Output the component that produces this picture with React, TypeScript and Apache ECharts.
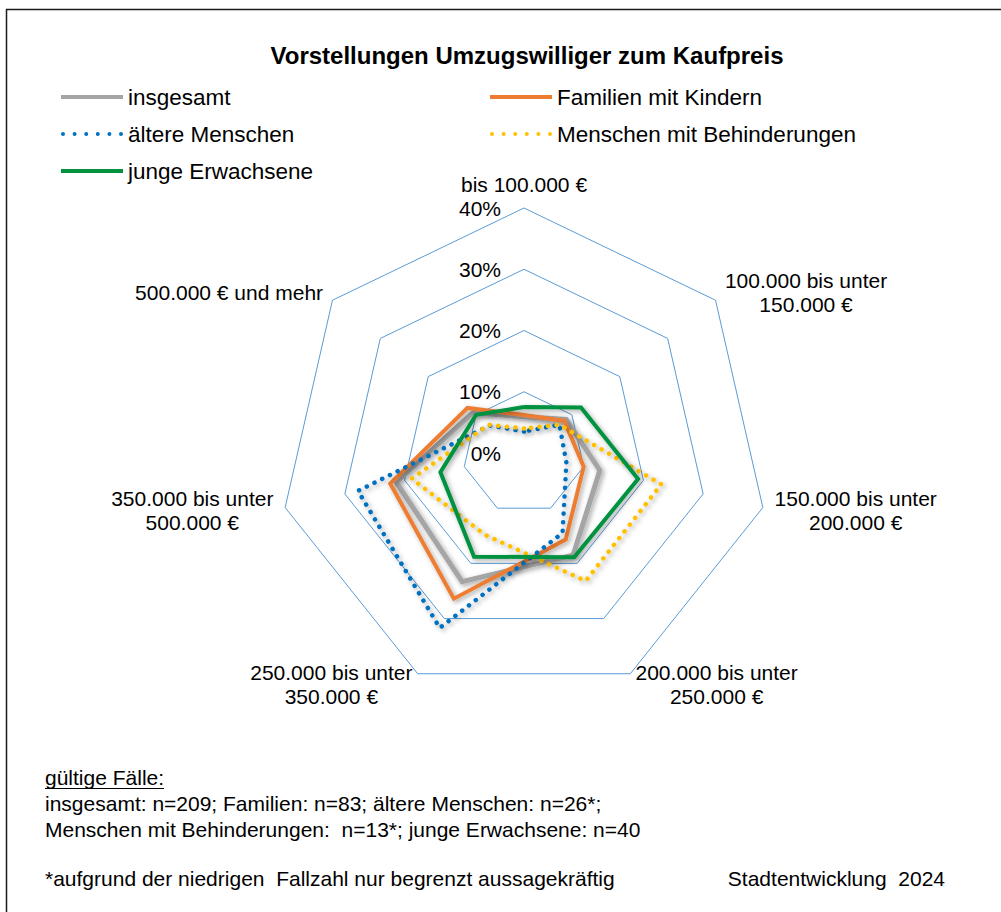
import React, { useEffect, useRef } from "react";
import * as echarts from "echarts";

// ---------- data ----------
const categories = [
  "bis 100.000 €",
  "100.000 bis unter\n150.000 €",
  "150.000 bis unter\n200.000 €",
  "200.000 bis unter\n250.000 €",
  "250.000 bis unter\n350.000 €",
  "350.000 bis unter\n500.000 €",
  "500.000 € und mehr",
];
const seriesNames = [
  "insgesamt",
  "Familien mit Kindern",
  "ältere Menschen",
  "Menschen mit Behinderungen",
  "junge Erwachsene",
];
// percent values, clockwise starting at "bis 100.000 €"
const insgesamt = [5.9, 8.8, 12.7, 18.5, 23.3, 21.4, 10.6];
const familien = [6.2, 8.4, 10.0, 15.7, 26.4, 22.4, 11.8];
const aeltere = [3.5, 7.4, 7.1, 14.5, 31.7, 27.8, 7.2];
const behinderungen = [4.0, 7.4, 23.0, 23.2, 14.8, 18.8, 7.4];
const junge = [7.5, 11.9, 19.1, 18.9, 18.8, 14.0, 10.0];
const axisMin = 0;
const axisMax = 40;
const axisStep = 10;
const tickSuffix = "%";

const titleText = "Vorstellungen Umzugswilliger zum Kaufpreis";
const footHeading = "gültige Fälle:";
const footLines = [
  "insgesamt: n=209; Familien: n=83; ältere Menschen: n=26*;",
  "Menschen mit Behinderungen:  n=13*; junge Erwachsene: n=40",
];
const footNote = "*aufgrund der niedrigen  Fallzahl nur begrenzt aussagekräftig";
const sourceText = "Stadtentwicklung  2024";

// ---------- styles ----------
const FONT = '"Liberation Sans", Arial, Helvetica, sans-serif';
const seriesValues = [insgesamt, familien, aeltere, behinderungen, junge];
const seriesStyles = [
  { color: "#A5A5A5", dotted: false, width: 5 },
  { color: "#ED7D31", dotted: false, width: 4 },
  { color: "#0070C0", dotted: true, width: 4.5 },
  { color: "#FFC000", dotted: true, width: 4.5 },
  { color: "#00923F", dotted: false, width: 4 },
];
const legendPos = [
  { left: 61, top: 84 },
  { left: 490, top: 84 },
  { left: 61, top: 121 },
  { left: 490, top: 121 },
  { left: 61, top: 158 },
];

// ECharts radar runs counter-clockwise; reorder so categories run clockwise
const cw = <T,>(arr: T[]): T[] => [arr[0], ...arr.slice(1).reverse()];

const dottedIcon = (() => {
  let d = "path://";
  for (let i = 0; i < 6; i++) {
    const x = i * 11.6;
    d += `M${x},2a2,2 0 1,0 4,0a2,2 0 1,0 -4,0z`;
  }
  return d;
})();

function measure(text: string, font: string): number {
  const c = document.createElement("canvas").getContext("2d");
  if (!c) return text.length * 9;
  c.font = font;
  return c.measureText(text).width;
}

export default function App() {
  const ref = useRef<HTMLDivElement>(null);

  useEffect(() => {
    if (!ref.current) return;
    const chart = echarts.init(ref.current, undefined, { renderer: "svg" });

    const footSize = 21;
    const headW = measure(footHeading, `${footSize}px ${FONT}`);

    const option: any = {
      animation: false,
      backgroundColor: "#fff",
      legend: seriesNames.map((name, i) => ({
        data: [name],
        left: legendPos[i].left,
        top: legendPos[i].top,
        padding: 0,
        selectedMode: false,
        icon: seriesStyles[i].dotted ? dottedIcon : "rect",
        itemWidth: 62,
        itemHeight: 4,
        itemStyle: { borderWidth: 0 },
        textStyle: {
          fontSize: 22.5,
          lineHeight: 26,
          color: "#000",
          fontFamily: FONT,
        },
      })),
      radar: {
        center: [524, 453],
        radius: 245,
        startAngle: 90,
        min: axisMin,
        splitNumber: (axisMax - axisMin) / axisStep,
        shape: "polygon",
        nameGap: 12,
        indicator: cw(categories).map((name) => ({
          name,
          min: axisMin,
          max: axisMax,
        })),
        axisName: {
          color: "#000",
          fontSize: 21,
          fontFamily: FONT,
          lineHeight: 24,
          formatter: (name: string) =>
            name
              .split("\n")
              .map((l) => `{c|${l}}`)
              .join("\n"),
          rich: {
            c: {
              align: "center",
              fontSize: 21,
              lineHeight: 24,
              color: "#000",
              fontFamily: FONT,
            },
          },
        },
        splitLine: { lineStyle: { color: "#5B9BD5", width: 1 } },
        splitArea: { show: false },
        axisLine: { show: false },
        axisTick: { show: false },
        axisLabel: { show: false },
      },
      grid: { left: 524, top: 208, width: 10, height: 245 },
      xAxis: { type: "value", show: false },
      yAxis: {
        type: "value",
        min: axisMin,
        max: axisMax,
        interval: axisStep,
        axisLine: { show: false },
        axisTick: { show: false },
        splitLine: { show: false },
        axisLabel: {
          formatter: "{value}" + tickSuffix,
          fontSize: 21,
          color: "#000",
          margin: 23,
          fontFamily: FONT,
        },
      },
      series: seriesNames.map((name, i) => {
        const st = seriesStyles[i];
        return {
          type: "radar",
          name,
          symbol: "none",
          z: 2 + i,
          itemStyle: { color: st.color },
          lineStyle: {
            color: st.color,
            width: st.width,
            type: st.dotted ? [0.1, 8.5] : "solid",
            cap: st.dotted ? "round" : "butt",
            join: "miter",
            shadowColor: "rgba(0,0,0,0.35)",
            shadowBlur: 5,
            shadowOffsetX: 2,
            shadowOffsetY: 2,
          },
          data: [{ name, value: cw(seriesValues[i]) }],
        };
      }),
      graphic: [
        {
          type: "line",
          shape: { x1: 6, y1: 9.5, x2: 1001, y2: 9.5 },
          style: { stroke: "#1a1a1a", lineWidth: 1.5 },
        },
        {
          type: "line",
          shape: { x1: 6.5, y1: 9, x2: 6.5, y2: 912 },
          style: { stroke: "#1a1a1a", lineWidth: 1.5 },
        },
        {
          type: "text",
          x: 527,
          y: 55,
          style: {
            text: titleText,
            fontSize: 24,
            fontWeight: "bold",
            fontFamily: FONT,
            fill: "#000",
            align: "center",
            verticalAlign: "middle",
          },
        },
        {
          type: "text",
          x: 45,
          y: 777,
          style: {
            text: footHeading,
            fontSize: footSize,
            fontFamily: FONT,
            fill: "#000",
            verticalAlign: "middle",
          },
        },
        {
          type: "line",
          shape: { x1: 45, y1: 788.5, x2: 45 + headW, y2: 788.5 },
          style: { stroke: "#000", lineWidth: 1 },
        },
        ...footLines.map((t, i) => ({
          type: "text",
          x: 45,
          y: 803 + i * 26,
          style: {
            text: t,
            fontSize: footSize,
            fontFamily: FONT,
            fill: "#000",
            verticalAlign: "middle",
          },
        })),
        {
          type: "text",
          x: 45,
          y: 878,
          style: {
            text: footNote,
            fontSize: footSize,
            fontFamily: FONT,
            fill: "#000",
            verticalAlign: "middle",
          },
        },
        {
          type: "text",
          x: 945,
          y: 878,
          style: {
            text: sourceText,
            fontSize: footSize,
            fontFamily: FONT,
            fill: "#000",
            align: "right",
            verticalAlign: "middle",
          },
        },
      ],
    };

    chart.setOption(option);
    return () => chart.dispose();
  }, []);

  return (
    <div
      ref={ref}
      style={{
        position: "absolute",
        left: 0,
        top: 0,
        width: 1001,
        height: 912,
        background: "#fff",
      }}
    />
  );
}
